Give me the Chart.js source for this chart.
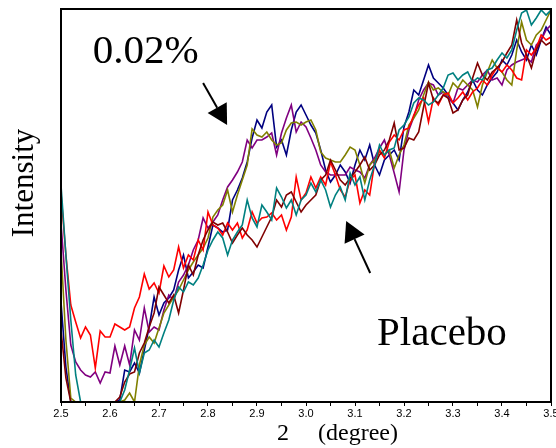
<!DOCTYPE html>
<html lang="en">
<head>
    <meta charset="UTF-8">
    <title>Intensity vs 2 theta</title>
    <script src="https://cdn.jsdelivr.net/npm/chart.js"></script>
    <style>
        body { margin: 0; background: #fff; }
    </style>
</head>
<body>
    <canvas id="myChart" width="556" height="448"></canvas>
    <script>
        // 2 theta grid (degree)
        const twoTheta = [
            2.50, 2.51, 2.52, 2.53, 2.54, 2.55, 2.56, 2.57, 2.58, 2.59,
            2.60, 2.61, 2.62, 2.63, 2.64, 2.65, 2.66, 2.67, 2.68, 2.69,
            2.70, 2.71, 2.72, 2.73, 2.74, 2.75, 2.76, 2.77, 2.78, 2.79,
            2.80, 2.81, 2.82, 2.83, 2.84, 2.85, 2.86, 2.87, 2.88, 2.89,
            2.90, 2.91, 2.92, 2.93, 2.94, 2.95, 2.96, 2.97, 2.98, 2.99,
            3.00, 3.01, 3.02, 3.03, 3.04, 3.05, 3.06, 3.07, 3.08, 3.09,
            3.10, 3.11, 3.12, 3.13, 3.14, 3.15, 3.16, 3.17, 3.18, 3.19,
            3.20, 3.21, 3.22, 3.23, 3.24, 3.25, 3.26, 3.27, 3.28, 3.29,
            3.30, 3.31, 3.32, 3.33, 3.34, 3.35, 3.36, 3.37, 3.38, 3.39,
            3.40, 3.41, 3.42, 3.43, 3.44, 3.45, 3.46, 3.47, 3.48, 3.49,
            3.50
        ];

        // placebo samples
        const placeboRed = [
            209, 147, 97, 80, 64, 75, 67, 34, 71, 65,
            65, 78, 75, 72, 75, 94, 105, 128, 113, 119,
            109, 136, 125, 132, 155, 134, 147, 142, 162, 152,
            190, 177, 174, 167, 179, 172, 179, 164, 172, 190,
            179, 184, 185, 189, 182, 187, 172, 185, 225, 202,
            209, 225, 214, 225, 217, 240, 227, 212, 205, 222,
            227, 199, 212, 207, 239, 252, 244, 260, 267, 262,
            272, 274, 287, 297, 304, 280, 304, 297, 307, 309,
            299, 304, 310, 302, 310, 314, 322, 317, 327, 335,
            330, 337, 332, 324, 322, 352, 347, 354, 367, 362,
            365
        ];
        const placeboTeal = [
            217, 147, 82, 27, 0, 0, 0, 0, 0, 0,
            0, 0, 0, 12, 32, 54, 29, 49, 52, 62,
            55, 69, 82, 102, 115, 110, 120, 117, 124, 137,
            152, 162, 170, 164, 147, 162, 170, 177, 202, 184,
            175, 197, 190, 182, 214, 205, 194, 202, 187, 202,
            207, 219, 210, 222, 212, 195, 207, 215, 202, 229,
            217, 225, 202, 222, 237, 257, 247, 252, 254, 272,
            277, 285, 299, 304, 302, 297, 300, 307, 314, 327,
            329, 322, 327, 330, 320, 324, 322, 332, 334, 342,
            349, 344, 352, 372, 389, 392, 377, 384, 392, 387,
            392
        ];
        const placeboMaroon = [
            72, 24, 0, 0, 0, 0, 0, 0, 0, 0,
            0, 0, 5, 20, 28, 30, 49, 59, 75, 89,
            115, 107, 99, 107, 89, 112, 137, 127, 147, 162,
            172, 180, 177, 179, 170, 159, 167, 174, 167, 162,
            155, 165, 175, 185, 202, 195, 207, 210, 200, 190,
            197, 202, 207, 222, 227, 242, 232, 222, 217, 224,
            230, 237, 245, 232, 237, 247, 252, 262, 279, 252,
            254, 264, 262, 270, 295, 319, 302, 299, 307, 304,
            289, 292, 302, 307, 324, 339, 327, 322, 330, 334,
            340, 349, 357, 382, 359, 347, 334, 352, 362, 357,
            360
        ];

        // 0.02% samples
        const dosePurple = [
            179, 112, 57, 40, 32, 27, 25, 30, 19, 30,
            29, 56, 37, 56, 37, 72, 62, 94, 70, 75,
            72, 92, 107, 102, 120, 127, 137, 152, 162, 184,
            174, 180, 187, 202, 215, 222, 230, 240, 262, 254,
            262, 262, 265, 269, 247, 269, 284, 297, 270, 280,
            275, 264, 252, 237, 230, 227, 227, 227, 227, 235,
            232, 230, 224, 237, 244, 254, 262, 247, 229, 210,
            252, 272, 285, 302, 312, 319, 317, 307, 310, 304,
            299, 314, 312, 317, 322, 320, 327, 332, 322, 324,
            317, 332, 337, 340, 342, 344, 340, 357, 362, 372,
            377
        ];
        const doseOlive = [
            152, 62, 4, 0, 0, 0, 0, 0, 0, 0,
            0, 0, 0, 2, 9, 0, 37, 57, 65, 59,
            74, 89, 97, 105, 112, 122, 132, 140, 147, 154,
            164, 185, 192, 197, 212, 190, 207, 222, 237, 273,
            267, 265, 270, 262, 257, 259, 272, 279, 280, 277,
            280, 282, 272, 250, 244, 242, 240, 240, 247, 255,
            252, 237, 219, 237, 242, 250, 247, 252, 234, 247,
            257, 277, 284, 292, 307, 320, 312, 314, 310, 307,
            319, 314, 322, 317, 312, 295, 317, 330, 342, 334,
            330, 322, 317, 352, 380, 362, 357, 367, 372, 382,
            392
        ];
        const doseBlue = [
            100, 35, 0, 0, 0, 0, 0, 0, 0, 0,
            0, 0, 2, 32, 30, 39, 29, 52, 75, 105,
            87, 99, 104, 112, 132, 147, 124, 130, 137, 134,
            155, 177, 174, 170, 172, 202, 212, 224, 240, 264,
            282, 274, 290, 297, 255, 262, 247, 272, 290, 297,
            287, 277, 269, 252, 232, 220, 227, 237, 230, 219,
            237, 252, 242, 257, 237, 227, 242, 247, 252, 242,
            275, 290, 312, 307, 322, 337, 324, 319, 314, 307,
            299, 292, 302, 310, 322, 312, 307, 317, 324, 330,
            342, 337, 347, 362, 350, 342, 357, 347, 362, 375,
            367
        ];

        const xTickLabels = ['2.5', '2.6', '2.7', '2.8', '2.9', '3.0', '3.1', '3.2', '3.3', '3.4', '3.5'];

        const serif = '"Liberation Serif", "Times New Roman", serif';
        const sans = '"Liberation Sans", Arial, sans-serif';

        function toPoints(values) {
            return values.map((v, i) => ({ x: twoTheta[i], y: v }));
        }

        function makeSet(label, values, color) {
            return {
                label: label,
                data: toPoints(values),
                borderColor: color,
                backgroundColor: color,
                borderWidth: 1.6,
                pointRadius: 0,
                tension: 0,
                fill: false
            };
        }

        function arrow(ctx, x0, y0, x1, y1, headLen, halfW) {
            const dx = x1 - x0, dy = y1 - y0;
            const len = Math.sqrt(dx * dx + dy * dy);
            const ux = dx / len, uy = dy / len;
            const bx = x1 - ux * headLen, by = y1 - uy * headLen;
            ctx.beginPath();
            ctx.moveTo(x0, y0);
            ctx.lineTo(bx, by);
            ctx.lineWidth = 2;
            ctx.strokeStyle = '#000';
            ctx.stroke();
            ctx.beginPath();
            ctx.moveTo(x1, y1);
            ctx.lineTo(bx - uy * halfW, by + ux * halfW);
            ctx.lineTo(bx + uy * halfW, by - ux * halfW);
            ctx.closePath();
            ctx.fillStyle = '#000';
            ctx.fill();
        }

        const ctx = document.getElementById('myChart').getContext('2d');

        new Chart(ctx, {
            type: 'line',
            data: {
                datasets: [
                    makeSet('Placebo 1', placeboTeal, '#008080'),
                    makeSet('Placebo 2', placeboMaroon, '#800000'),
                    makeSet('Placebo 3', placeboRed, '#ff0000'),
                    makeSet('0.02% 1', doseOlive, '#808000'),
                    makeSet('0.02% 2', dosePurple, '#800080'),
                    makeSet('0.02% 3', doseBlue, '#000080')
                ]
            },
            options: {
                responsive: false,
                animation: false,
                layout: { padding: { left: 61, right: 5, top: 9, bottom: 0 } },
                plugins: {
                    legend: { display: false },
                    tooltip: { enabled: false }
                },
                scales: {
                    x: {
                        type: 'linear',
                        min: 2.5,
                        max: 3.5,
                        border: { display: false },
                        grid: {
                            drawOnChartArea: false,
                            drawTicks: true,
                            tickLength: 4,
                            color: '#000',
                            tickColor: '#000',
                            lineWidth: 1
                        },
                        ticks: {
                            stepSize: 0.05,
                            autoSkip: false,
                            maxRotation: 0,
                            padding: 1,
                            color: '#000',
                            font: { family: sans, size: 11 },
                            callback: function(value) {
                                const k = Math.round(value * 100);
                                if (k % 10 !== 0) return '';
                                return xTickLabels[(k - 250) / 10];
                            }
                        },
                        afterFit: function(scale) {
                            scale.height = 46;
                            scale.paddingLeft = 0;
                            scale.paddingRight = 0;
                        }
                    },
                    y: {
                        display: false,
                        min: 0,
                        max: 393
                    }
                }
            },
            plugins: [{
                id: 'frameAndNotes',
                afterDraw: function(chart) {
                    const c = chart.ctx;
                    const area = chart.chartArea;
                    const xs = chart.scales.x;
                    const ys = chart.scales.y;

                    c.save();
                    // plot frame
                    c.strokeStyle = '#000';
                    c.lineWidth = 2;
                    c.strokeRect(area.left, area.top, area.right - area.left, area.bottom - area.top);

                    // axis titles
                    c.fillStyle = '#000';
                    c.textBaseline = 'alphabetic';
                    c.font = '24px ' + serif;
                    c.textAlign = 'left';
                    c.fillText('2', 277, 440);
                    c.fillText('(degree)', 318, 440);

                    c.save();
                    c.translate(33, 183);
                    c.rotate(-Math.PI / 2);
                    c.textAlign = 'center';
                    c.font = '31px ' + serif;
                    c.fillText('Intensity', 0, 0);
                    c.restore();

                    // annotations
                    c.font = '41px ' + serif;
                    c.textAlign = 'left';
                    c.fillText('0.02%', xs.getPixelForValue(2.565), ys.getPixelForValue(339));
                    c.fillText('Placebo', xs.getPixelForValue(3.145), ys.getPixelForValue(57));

                    arrow(c, xs.getPixelForValue(2.790), ys.getPixelForValue(319),
                          xs.getPixelForValue(2.839), ys.getPixelForValue(277), 20, 11);
                    arrow(c, xs.getPixelForValue(3.131), ys.getPixelForValue(129),
                          xs.getPixelForValue(3.082), ys.getPixelForValue(181), 20, 11);
                    c.restore();
                }
            }]
        });
    </script>
</body>
</html>
